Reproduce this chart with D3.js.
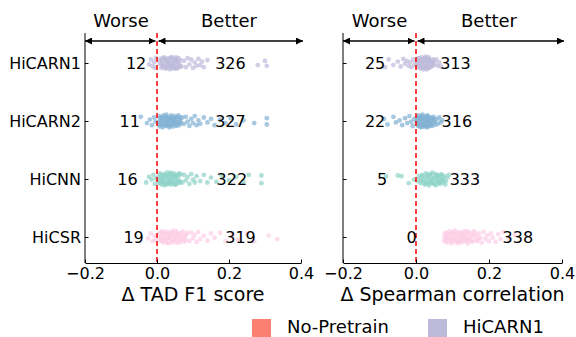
<!DOCTYPE html>
<html>
<head>
<meta charset="utf-8">
<script src="https://cdn.jsdelivr.net/npm/d3@7"></script>
<style>
  body { margin: 0; background: #fff; }
  text { font-family: "DejaVu Sans", sans-serif; }
</style>
</head>
<body>
<div id="chart"></div>
<script>
// Data
const methods = ["HiCARN1", "HiCARN2", "HiCNN", "HiCSR"];
const methodColors = ["#bebada", "#80b1d3", "#8dd3c7", "#fccde5"];
const xTicks = [-0.2, 0, 0.2, 0.4];

// counts of worse / better cases
const tadWorse = [12, 11, 16, 19];
const tadBetter = [326, 327, 322, 319];
const spWorse = [25, 22, 5, 0];
const spBetter = [313, 316, 333, 338];
// where each count annotation sits (data units)
const tadWorseAt = [-0.058, -0.076, -0.082, -0.065];
const tadBetterAt = [0.204, 0.204, 0.208, 0.232];
const spWorseAt = [-0.112, -0.112, -0.093, -0.012];
const spBetterAt = [0.108, 0.112, 0.134, 0.279];

// strip points: [delta, jitter in band units]
const tadHiCARN1 = [[-0.022,0.2],[-0.017,-0.5],[-0.012,0.5],[-0.008,-0.1],[-0.005,0.7],[-0.003,-0.7],
  [0.008,0.1],[0.010,-0.6],[0.012,0.7],[0.015,-0.2],[0.017,0.4],[0.020,-0.8],[0.022,0.0],[0.024,0.8],[0.026,-0.4],[0.028,0.3],
  [0.030,-0.7],[0.032,0.6],[0.034,-0.1],[0.036,0.9],[0.038,-0.5],[0.040,0.2],[0.042,-0.8],[0.044,0.5],[0.046,-0.3],[0.048,0.8],
  [0.050,0.0],[0.052,-0.6],[0.054,0.4],[0.056,-0.2],[0.058,0.7],[0.060,-0.7],[0.062,0.2],[0.065,-0.4],[0.068,0.5],
  [0.009,-0.3],[0.013,0.3],[0.016,-0.7],[0.019,0.6],[0.023,-0.5],[0.027,0.7],[0.031,-0.3],[0.035,0.4],[0.039,-0.8],[0.043,0.1],
  [0.047,0.6],[0.051,-0.4],[0.055,0.8],[0.059,-0.1],[0.063,0.5],[0.029,-0.1],[0.041,0.7],[0.053,-0.8],
  [0.075,-0.3],[0.08,0.6],[0.085,-0.7],[0.09,0.2],[0.095,-0.5],[0.10,0.7],[0.105,-0.1],[0.11,0.4],[0.115,-0.6],[0.12,0.3],
  [0.125,-0.2],[0.13,0.6],[0.14,-0.4],[0.28,0.3],[0.30,-0.3],[0.305,0.4]];
const tadHiCARN2 = [[-0.045,-0.6],[-0.028,0.3],[-0.02,-0.2],[-0.014,0.6],[-0.008,-0.5],[-0.004,0.1],
  [0.004,0.2],[0.006,-0.7],[0.008,0.8],[0.010,-0.1],[0.012,0.5],[0.014,-0.5],[0.016,0.9],[0.018,-0.8],[0.020,0.3],[0.022,-0.3],
  [0.024,0.7],[0.026,-0.9],[0.028,0.0],[0.030,0.6],[0.032,-0.6],[0.034,0.9],[0.036,-0.2],[0.038,0.4],[0.040,-0.8],[0.042,0.2],
  [0.044,0.8],[0.046,-0.4],[0.048,0.5],[0.050,-0.7],[0.052,0.1],[0.054,0.7],[0.056,-0.3],[0.058,0.4],[0.060,-0.8],[0.062,0.6],
  [0.064,-0.1],[0.067,0.3],[0.07,-0.5],
  [0.005,0.5],[0.009,-0.4],[0.013,0.2],[0.017,-0.2],[0.021,0.6],[0.025,-0.6],[0.029,0.3],[0.033,-0.3],[0.037,0.7],[0.041,-0.5],
  [0.045,0.1],[0.049,-0.2],[0.053,0.5],[0.057,-0.6],[0.061,0.2],[0.065,-0.4],[0.027,0.0],[0.039,-0.1],
  [0.075,0.4],[0.08,-0.6],[0.085,0.1],[0.09,0.7],[0.095,-0.3],[0.1,0.3],[0.105,-0.7],[0.11,0.6],[0.115,-0.1],[0.12,0.4],
  [0.13,-0.5],[0.14,0.2],[0.15,-0.3],[0.16,0.6],[0.175,-0.2],[0.19,0.3],[0.205,-0.4],[0.22,0.5],[0.24,-0.1],[0.27,0.3],
  [0.305,-0.4],[0.305,0.5]];
const tadHiCNN = [[-0.03,0.5],[-0.022,-0.3],[-0.015,0.1],[-0.01,-0.6],[-0.006,0.7],[-0.003,-0.1],
  [0.004,-0.3],[0.006,0.6],[0.008,-0.8],[0.010,0.2],[0.012,-0.4],[0.014,0.8],[0.016,-0.1],[0.018,0.5],[0.020,-0.7],[0.022,0.9],
  [0.024,-0.5],[0.026,0.3],[0.028,-0.9],[0.030,0.7],[0.032,-0.2],[0.034,0.4],[0.036,-0.7],[0.038,0.8],[0.040,0.0],[0.042,-0.5],
  [0.044,0.6],[0.046,-0.8],[0.048,0.3],[0.050,-0.3],[0.052,0.8],[0.054,-0.6],[0.056,0.1],[0.058,0.6],[0.060,-0.4],[0.063,0.3],
  [0.066,-0.7],
  [0.005,0.1],[0.009,0.6],[0.013,-0.6],[0.017,0.3],[0.021,-0.2],[0.025,0.7],[0.029,-0.4],[0.033,0.1],[0.037,-0.9],[0.041,0.5],
  [0.045,-0.2],[0.049,0.8],[0.053,-0.5],[0.057,0.3],[0.061,-0.8],[0.064,0.5],[0.031,0.6],[0.043,-0.6],
  [0.07,0.5],[0.075,-0.6],[0.08,0.2],[0.085,-0.3],[0.09,0.7],[0.095,-0.7],[0.1,0.1],[0.105,0.5],[0.11,-0.4],[0.12,0.3],
  [0.13,-0.6],[0.14,0.5],[0.15,-0.2],[0.165,0.4],[0.18,-0.5],[0.2,0.2],[0.22,-0.3],[0.24,0.4],[0.255,-0.6],[0.29,0.6],[0.29,-0.5]];
const tadHiCSR = [[-0.025,0.2],[-0.018,-0.5],[-0.012,0.6],[-0.008,-0.2],[-0.004,0.4],
  [0.006,-0.4],[0.009,0.5],[0.012,-0.8],[0.015,0.1],[0.018,0.8],[0.021,-0.5],[0.024,0.4],[0.027,-0.1],[0.030,0.9],[0.033,-0.7],
  [0.036,0.2],[0.039,-0.4],[0.042,0.7],[0.045,-0.9],[0.048,0.3],[0.051,-0.2],[0.054,0.8],[0.057,-0.6],[0.060,0.1],[0.063,0.6],
  [0.066,-0.5],[0.069,0.3],[0.072,-0.8],[0.075,0.7],[0.078,-0.2],[0.081,0.4],[0.085,-0.6],
  [0.008,0.1],[0.011,-0.6],[0.014,0.6],[0.017,-0.3],[0.020,0.3],[0.023,-0.8],[0.026,0.7],[0.029,-0.4],[0.032,0.2],[0.035,-0.1],
  [0.038,0.8],[0.041,-0.6],[0.044,0.4],[0.047,-0.3],[0.050,0.6],[0.053,-0.8],[0.056,0.2],[0.059,-0.4],[0.062,0.8],[0.068,-0.1],
  [0.074,0.2],[0.080,-0.3],
  [0.09,0.6],[0.095,-0.6],[0.1,0.2],[0.105,-0.3],[0.11,0.7],[0.115,-0.7],[0.12,0.3],[0.13,-0.2],[0.14,0.5],[0.15,-0.5],
  [0.16,0.1],[0.175,-0.6],[0.19,0.6],[0.21,-0.3],[0.225,0.4],[0.25,-0.5],[0.27,0.6],[0.31,-0.2],[0.334,0.3]];

const spHiCARN1 = [[-0.085,0.6],[-0.075,-0.5],[-0.062,0.3],[-0.05,-0.2],[-0.042,0.5],[-0.035,-0.6],[-0.03,0.1],[-0.025,-0.3],
  [-0.02,0.4],[-0.016,-0.1],[-0.012,0.6],[-0.008,-0.5],[-0.004,0.2],
  [0.002,0.0],[0.004,-0.4],[0.006,0.5],[0.008,-0.7],[0.010,0.3],[0.012,0.8],[0.014,-0.3],[0.016,-0.8],[0.018,0.4],[0.020,0.9],
  [0.022,-0.6],[0.024,0.1],[0.026,-0.9],[0.028,0.6],[0.030,-0.2],[0.032,0.8],[0.034,-0.6],[0.036,0.2],[0.038,-0.4],[0.040,0.6],
  [0.043,-0.1],[0.046,0.4],[0.049,-0.3],[0.052,0.2],
  [0.003,0.5],[0.005,-0.6],[0.007,0.1],[0.011,-0.2],[0.013,0.6],[0.015,0.0],[0.017,-0.5],[0.019,0.7],[0.021,-0.2],[0.023,0.5],
  [0.025,-0.7],[0.027,0.3],[0.029,0.9],[0.031,-0.5],[0.033,0.0],[0.035,-0.8],[0.037,0.6],[0.041,-0.3],[0.045,0.2],[0.048,-0.5],
  [0.056,-0.5],[0.06,0.4],[0.064,-0.1],[0.068,0.5]];
const spHiCARN2 = [[-0.088,-0.3],[-0.078,0.5],[-0.062,-0.6],[-0.055,0.2],[-0.045,-0.1],[-0.038,0.6],[-0.03,-0.4],[-0.024,0.3],
  [-0.018,-0.7],[-0.013,0.1],[-0.009,0.7],[-0.005,-0.3],
  [0.002,0.2],[0.004,-0.5],[0.006,0.7],[0.008,-0.8],[0.010,0.0],[0.012,0.9],[0.014,-0.4],[0.016,0.5],[0.018,-0.9],[0.020,0.2],
  [0.022,0.8],[0.024,-0.6],[0.026,0.4],[0.028,-0.2],[0.030,0.9],[0.032,-0.8],[0.034,0.1],[0.036,0.6],[0.038,-0.5],[0.040,0.3],
  [0.042,-0.2],[0.045,0.7],[0.048,-0.6],[0.051,0.1],[0.054,0.5],[0.057,-0.3],
  [0.003,-0.1],[0.005,0.4],[0.007,-0.6],[0.009,0.6],[0.011,-0.3],[0.013,0.2],[0.015,-0.7],[0.017,0.8],[0.019,-0.1],[0.021,0.5],
  [0.023,-0.4],[0.025,0.0],[0.027,0.7],[0.029,-0.7],[0.031,0.3],[0.033,-0.4],[0.035,0.8],[0.037,0.0],[0.041,0.6],[0.044,-0.4],
  [0.047,0.3],[0.050,-0.2],
  [0.06,0.4],[0.064,-0.5],[0.068,0.2],[0.072,-0.1]];
const spHiCNN = [[-0.082,-0.4],[-0.05,-0.5],[-0.04,-0.4],[-0.02,0.6],[-0.006,0.1],
  [0.004,0.3],[0.008,-0.4],[0.012,0.6],[0.016,-0.6],[0.020,0.1],[0.024,0.8],[0.027,-0.8],[0.030,0.4],[0.033,-0.3],[0.036,0.9],
  [0.039,-0.7],[0.042,0.2],[0.045,-0.9],[0.048,0.6],[0.051,-0.2],[0.054,0.9],[0.057,-0.6],[0.060,0.3],[0.063,-0.4],[0.066,0.7],
  [0.069,-0.7],[0.072,0.1],[0.075,0.5],[0.078,-0.4],[0.082,0.3],[0.086,-0.2],
  [0.010,-0.1],[0.014,0.3],[0.018,-0.4],[0.022,0.5],[0.026,-0.2],[0.029,0.7],[0.032,-0.6],[0.035,0.1],[0.038,0.6],[0.041,-0.4],
  [0.044,0.4],[0.047,-0.1],[0.050,0.7],[0.053,-0.7],[0.056,0.2],[0.059,-0.3],[0.062,0.6],[0.065,-0.1],[0.068,0.4],[0.071,-0.5],
  [0.074,0.0],
  [0.08,0.8],[0.09,-0.6]];
const spHiCSR = [[0.076,0.5],[0.079,-0.6],[0.082,0.1],[0.085,0.8],[0.088,-0.3],[0.091,-0.8],[0.094,0.4],[0.097,0.9],[0.100,-0.5],
  [0.103,0.2],[0.106,-0.9],[0.109,0.7],[0.112,-0.2],[0.115,0.5],[0.118,-0.7],[0.121,0.0],[0.124,0.8],[0.127,-0.4],[0.130,0.3],
  [0.133,-0.8],[0.136,0.6],[0.139,-0.1],[0.142,0.9],[0.145,-0.6],[0.148,0.2],[0.151,-0.3],[0.154,0.7],[0.157,-0.8],[0.160,0.4],
  [0.164,-0.2],[0.168,0.6],[0.172,-0.5],[0.176,0.1],
  [0.078,-0.1],[0.081,0.6],[0.084,-0.5],[0.087,0.3],[0.090,0.0],[0.093,-0.4],[0.096,0.6],[0.099,0.1],[0.102,-0.7],[0.105,0.5],
  [0.108,-0.3],[0.111,0.2],[0.114,0.9],[0.117,-0.5],[0.120,0.5],[0.123,-0.1],[0.126,0.6],[0.129,-0.7],[0.132,0.0],[0.135,-0.4],
  [0.138,0.4],[0.141,-0.8],[0.144,0.3],[0.150,0.6],[0.156,-0.2],[0.162,-0.6],[0.170,0.3],
  [0.18,0.8],[0.185,-0.7],[0.19,0.3],[0.195,-0.2],[0.2,0.6],[0.205,-0.5],[0.21,0.1],[0.218,0.7],[0.225,-0.4],[0.232,0.3],
  [0.24,-0.7],[0.255,0.2],[0.27,-0.3]];

const legendNames = ["No-Pretrain", "HiCARN1"];
const legendColors = ["#fb8072", "#bebada"];

const width = 576, height = 337;
const plotTop = 33, plotBottom = 263;

const svg = d3.select("#chart").append("svg")
    .attr("width", width)
    .attr("height", height);

// arrow head marker
svg.append("defs").append("marker")
    .attr("id", "head")
    .attr("viewBox", "0 0 10 10")
    .attr("refX", 10).attr("refY", 5)
    .attr("markerWidth", 7).attr("markerHeight", 7)
    .attr("markerUnits", "userSpaceOnUse")
    .attr("orient", "auto-start-reverse")
    .append("path")
    .attr("d", "M0,0 L10,5 L0,10 z")
    .attr("fill", "#000");

const y = d3.scalePoint().domain(methods).range([63, 237]);
const jit = d3.scaleLinear().domain([-1, 1]).range([-7, 7]);

const panels = [
    { range: [85, 301], label: "\u0394 TAD F1 score", strips: [tadHiCARN1, tadHiCARN2, tadHiCNN, tadHiCSR],
      worse: tadWorse, better: tadBetter, worseAt: tadWorseAt, betterAt: tadBetterAt, yLabels: true },
    { range: [343, 562], label: "\u0394 Spearman correlation", strips: [spHiCARN1, spHiCARN2, spHiCNN, spHiCSR],
      worse: spWorse, better: spBetter, worseAt: spWorseAt, betterAt: spBetterAt, yLabels: false }
];

panels.forEach(p => {
    const x = d3.scaleLinear().domain([-0.2, 0.4]).range(p.range);
    const g = svg.append("g");

    // points
    p.strips.forEach((pts, i) => {
        g.append("g").selectAll("circle")
            .data(pts)
            .join("circle")
            .attr("cx", d => x(d[0]))
            .attr("cy", d => y(methods[i]) + jit(d[1]))
            .attr("r", 2.4)
            .attr("fill", methodColors[i])
            .attr("fill-opacity", 0.7);
    });

    // zero line
    g.append("line")
        .attr("x1", x(0)).attr("x2", x(0))
        .attr("y1", plotTop).attr("y2", plotBottom)
        .attr("stroke", "red")
        .attr("stroke-width", 1.5)
        .attr("stroke-dasharray", "5,3");

    // axes
    const xAxis = d3.axisBottom(x).tickValues(xTicks)
        .tickFormat(d3.format(".1f"))
        .tickSizeInner(-3.5).tickSizeOuter(0).tickPadding(5);
    const xg = g.append("g").attr("transform", `translate(0,${plotBottom})`).call(xAxis);

    const yAxis = d3.axisLeft(y).tickSizeInner(-3.5).tickSizeOuter(0).tickPadding(4);
    if (!p.yLabels) yAxis.tickFormat("");
    const yg = g.append("g").attr("transform", `translate(${p.range[0]},0)`).call(yAxis);

    [xg, yg].forEach(a => {
        a.select(".domain").attr("stroke", "#000").attr("stroke-width", 1);
        a.selectAll(".tick line").attr("stroke", "#000");
        a.selectAll("text").style("font-size", "16px").attr("fill", "#000");
    });
    yg.select(".domain").attr("d", `M0,${plotTop}V${plotBottom}`);

    // count annotations
    methods.forEach((m, i) => {
        g.append("text")
            .attr("x", x(p.worseAt[i])).attr("y", y(m))
            .attr("dy", "0.35em").attr("text-anchor", "middle")
            .style("font-size", "16px")
            .text(p.worse[i]);
        g.append("text")
            .attr("x", x(p.betterAt[i])).attr("y", y(m))
            .attr("dy", "0.35em").attr("text-anchor", "middle")
            .style("font-size", "16px")
            .text(p.better[i]);
    });

    // worse / better arrows
    const ay = 41;
    g.append("line")
        .attr("x1", x(-0.2)).attr("x2", x(0) - 1.5)
        .attr("y1", ay).attr("y2", ay)
        .attr("stroke", "#000").attr("stroke-width", 1.3)
        .attr("marker-start", "url(#head)").attr("marker-end", "url(#head)");
    g.append("line")
        .attr("x1", x(0) + 1.5).attr("x2", x(0.4) + 2)
        .attr("y1", ay).attr("y2", ay)
        .attr("stroke", "#000").attr("stroke-width", 1.3)
        .attr("marker-start", "url(#head)").attr("marker-end", "url(#head)");

    g.append("text")
        .attr("x", (x(-0.2) + x(0)) / 2).attr("y", 27)
        .attr("text-anchor", "middle").style("font-size", "18px")
        .text("Worse");
    g.append("text")
        .attr("x", (x(0) + x(0.4)) / 2).attr("y", 27)
        .attr("text-anchor", "middle").style("font-size", "18px")
        .text("Better");

    // axis title
    g.append("text")
        .attr("x", (p.range[0] + p.range[1]) / 2).attr("y", 301)
        .attr("text-anchor", "middle").style("font-size", "19px")
        .text(p.label);
});

// legend
const legend = svg.append("g");
const legendX = [252, 428];
legendNames.forEach((name, i) => {
    legend.append("rect")
        .attr("x", legendX[i]).attr("y", 319)
        .attr("width", 19).attr("height", 18)
        .attr("fill", legendColors[i]);
    legend.append("text")
        .attr("x", legendX[i] + 35).attr("y", 333)
        .style("font-size", "18px")
        .text(name);
});
</script>
</body>
</html>
